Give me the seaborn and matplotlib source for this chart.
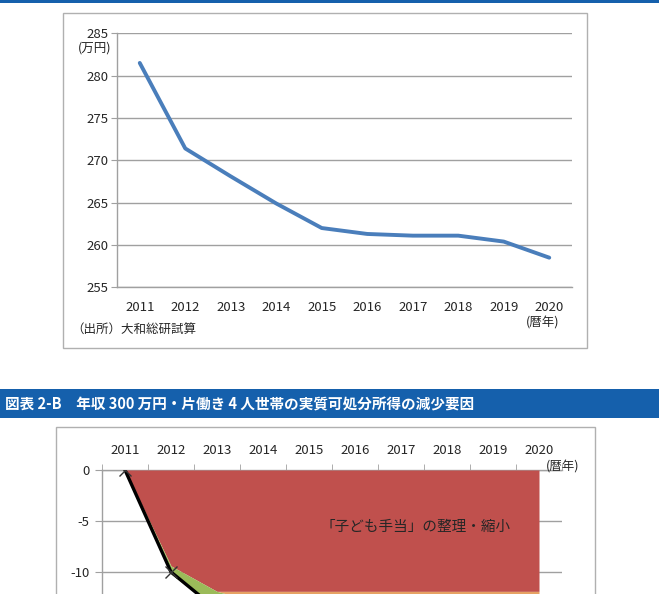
import numpy as np
import pandas as pd
import matplotlib
matplotlib.use('Agg')
import matplotlib.pyplot as plt
from matplotlib.patches import Rectangle
import seaborn as sns

# データ
years = ['2011', '2012', '2013', '2014', '2015', '2016', '2017', '2018', '2019', '2020']
income = [281.5, 271.4, 268.1, 264.9, 262.0, 261.3, 261.1, 261.1, 260.4, 258.5]

# 図表2-B（上部のみ見える）
kodomo = [0, -9.4, -11.9, -11.9, -11.9, -11.9, -11.9, -11.9, -11.9, -11.9]
other1 = [0, 0, 0, -1.2, -1.5, -1.6, -1.7, -1.8, -1.9, -2.0]
other2 = [0, -0.8, -1.8, -1.2, -1.4, -1.5, -1.6, -1.7, -1.8, -2.0]
total = [0, -10.0, -13.7, -14.3, -14.8, -15.0, -15.2, -15.4, -15.6, -16.0]

W, H = 668, 594
sns.set_style('white')
plt.rcParams['font.family'] = ['Noto Sans CJK JP', 'DejaVu Sans']
plt.rcParams['axes.unicode_minus'] = False

fig = plt.figure(figsize=(W / 100, H / 100), dpi=100)


def fx(px):
    return px / W


def fy(py):
    return 1 - py / H


grid_c = '#A0A0A0'
frame_c = '#B0B0B0'
blue_bar = '#1560AC'

# 上の青い線とヘッダー
fig.add_artist(Rectangle((0, fy(3)), fx(659), 3 / H, transform=fig.transFigure,
                         facecolor=blue_bar, edgecolor='none'))
fig.add_artist(Rectangle((0, fy(418)), fx(659), 29 / H, transform=fig.transFigure,
                         facecolor=blue_bar, edgecolor='none'))
fig.text(fx(5), fy(404), '図表 2-B　年収 300 万円・片働き 4 人世帯の実質可処分所得の減少要因',
         color='white', fontsize=10.5, fontweight='bold', va='center', ha='left')

# 枠
fig.add_artist(Rectangle((fx(63), fy(348)), fx(587 - 63), (348 - 13) / H,
                         transform=fig.transFigure, facecolor='none',
                         edgecolor=frame_c, lw=1))
fig.add_artist(Rectangle((fx(56), fy(640)), fx(595 - 56), (640 - 427) / H,
                         transform=fig.transFigure, facecolor='none',
                         edgecolor=frame_c, lw=1))

# ---- 上のグラフ ----
ax1 = fig.add_axes([fx(117), fy(287.3), fx(572 - 117), (287.3 - 33.3) / H])
df1 = pd.DataFrame({'x': np.arange(len(years)), 'y': income})
sns.lineplot(data=df1, x='x', y='y', ax=ax1, color='#4A7EBB', lw=2.8)
ax1.set_xlim(-0.5, 9.5)
ax1.set_ylim(255, 285)
ax1.set_yticks([255, 260, 265, 270, 275, 280, 285])
ax1.set_xticks(np.arange(len(years)))
ax1.set_xticklabels(years)
ax1.set_xticks(np.arange(-0.5, 10, 1), minor=True)
ax1.tick_params(axis='x', which='major', length=0, pad=10, labelsize=9.5)
ax1.tick_params(axis='x', which='minor', length=4, color=grid_c, direction='out')
ax1.tick_params(axis='y', length=4, color=grid_c, pad=2, labelsize=9.5, left=True)
ax1.set_xlabel('')
ax1.set_ylabel('')
ax1.grid(axis='y', color=grid_c, lw=1)
ax1.set_axisbelow(True)
for s in ['top', 'right']:
    ax1.spines[s].set_visible(False)
for s in ['left', 'bottom']:
    ax1.spines[s].set_color(grid_c)
    ax1.spines[s].set_linewidth(1)

fig.text(fx(95), fy(48), '(万円)', fontsize=9, ha='center', va='center')
fig.text(fx(543), fy(323), '(暦年)', fontsize=9, ha='center', va='center')
fig.text(fx(71), fy(330), '（出所）大和総研試算', fontsize=9, ha='left', va='center')

# ---- 下のグラフ ----
ax2 = fig.add_axes([fx(102), fy(674), fx(562 - 102), 204 / H])
x = np.arange(len(years))
k = np.array(kodomo)
o1 = k + np.array(other1)
o2 = o1 + np.array(other2)
ax2.fill_between(x, 0, k, color='#C0504D', lw=0, zorder=2)
ax2.fill_between(x, k, o1, color='#E6A264', lw=0, zorder=2)
ax2.fill_between(x, o1, o2, color='#9BBB59', lw=0, zorder=2)
df2 = pd.DataFrame({'x': x, 'y': total})
sns.lineplot(data=df2, x='x', y='y', ax=ax2, color='black', lw=2.4, zorder=3,
             marker='x', markersize=8, markeredgecolor='#333333', markeredgewidth=1)
ax2.set_xlim(-0.5, 9.5)
ax2.set_ylim(-20, 0)
ax2.set_yticks([-10, -5, 0])
ax2.xaxis.tick_top()
ax2.set_xticks(x)
ax2.set_xticklabels(years)
ax2.set_xticks(np.arange(-0.5, 10, 1), minor=True)
ax2.tick_params(axis='x', which='major', length=0, pad=9, labelsize=9.5, top=True, bottom=False)
ax2.tick_params(axis='x', which='minor', length=4, color=grid_c, direction='out', top=True, bottom=False)
ax2.tick_params(axis='y', length=5, color=grid_c, pad=4, labelsize=9.5, left=True)
ax2.set_xlabel('')
ax2.set_ylabel('')
ax2.grid(axis='y', color=grid_c, lw=1, zorder=0)
ax2.set_axisbelow(True)
for s in ['bottom', 'right']:
    ax2.spines[s].set_visible(False)
for s in ['left', 'top']:
    ax2.spines[s].set_color(grid_c)
    ax2.spines[s].set_linewidth(1)
    ax2.spines[s].set_zorder(1)

ax2.text(4.24, -5.6, '「子ども手当」の整理・縮小', fontsize=10.5, ha='left', va='center', zorder=4)
fig.text(fx(563), fy(467), '(暦年)', fontsize=9, ha='center', va='center')

fig.savefig('out.png', dpi=100)
